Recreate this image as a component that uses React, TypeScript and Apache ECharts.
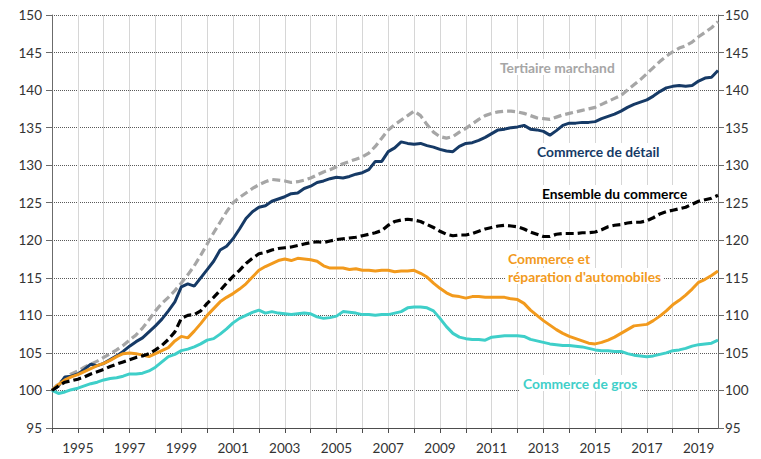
import React, { useEffect, useRef } from "react";
import * as echarts from "echarts";

// Quarters 1994T1 .. 2019T4
const years: number[] = [];
for (let y = 1994; y <= 2019; y++) years.push(y);
const categories: string[] = [];
years.forEach((y) => [1, 2, 3, 4].forEach((q) => categories.push(`${y}T${q}`)));

const tertiaireMarchand = [
  100, 100.9, 101.6, 102.2,
  102.6, 103.1, 103.5, 103.9,
  104.4, 104.9, 105.4, 106.0,
  106.7, 107.4, 108.3, 109.4,
  110.6, 111.6, 112.4, 113.3,
  114.3, 115.4, 116.6, 118.0,
  119.5, 121.0, 122.4, 123.8,
  125.0, 125.7, 126.3, 126.9,
  127.4, 127.8, 128.1, 128.0,
  127.9, 127.7, 127.8, 128.0,
  128.3, 128.7, 129.1, 129.4,
  129.8, 130.2, 130.5, 130.8,
  131.1, 131.6, 132.5, 133.6,
  134.7, 135.4, 136.0, 136.6,
  137.2, 136.6, 135.4, 134.4,
  133.8, 133.6, 133.8, 134.4,
  134.9, 135.5, 136.1, 136.6,
  136.9, 137.1, 137.2, 137.2,
  137.1, 136.9, 136.6, 136.3,
  136.2, 136.1, 136.4, 136.7,
  136.9, 137.1, 137.3, 137.5,
  137.7, 138.1, 138.5, 138.9,
  139.3, 140.0, 140.7, 141.4,
  142.2, 143.0, 143.8, 144.5,
  145.1, 145.6, 145.9, 146.4,
  147.1, 147.7, 148.3, 149.1,
];

const commerceDetail = [
  100, 100.6, 101.8, 101.9,
  102.2, 102.8, 103.5, 103.3,
  103.6, 104.1, 104.6, 105.2,
  105.9, 106.5, 107.0, 107.8,
  108.6, 109.5, 110.6, 111.8,
  113.8, 114.2, 113.9, 115.0,
  116.1, 117.2, 118.7, 119.2,
  120.2, 121.5, 122.9, 123.8,
  124.4, 124.6, 125.2, 125.5,
  125.8, 126.2, 126.3, 126.9,
  127.2, 127.7, 127.9, 128.2,
  128.4, 128.3, 128.5, 128.8,
  129.0, 129.4, 130.5, 130.5,
  131.8, 132.3, 133.1, 132.9,
  132.8, 132.9, 132.6, 132.4,
  132.1, 131.9, 131.8, 132.5,
  132.9, 133.0, 133.3, 133.7,
  134.2, 134.7, 134.8, 135.0,
  135.1, 135.3, 134.8, 134.7,
  134.5, 134.0, 134.6, 135.3,
  135.6, 135.6, 135.7, 135.7,
  135.8, 136.2, 136.5, 136.8,
  137.2, 137.7, 138.1, 138.4,
  138.7, 139.2, 139.8, 140.3,
  140.5, 140.6, 140.5, 140.6,
  141.2, 141.6, 141.7, 142.6,
];

const ensembleCommerce = [
  100, 100.6, 101.1, 101.3,
  101.5, 101.8, 102.2, 102.5,
  102.8, 103.2, 103.5, 103.8,
  104.1, 104.4, 104.6, 104.9,
  105.4, 106.0, 106.8, 107.8,
  109.6, 110.0, 110.1, 110.6,
  111.6, 112.4, 113.3, 114.3,
  115.2, 116.0, 116.9, 117.6,
  118.2, 118.4, 118.7, 118.9,
  119.0, 119.1, 119.3, 119.5,
  119.7, 119.8, 119.7, 119.9,
  120.1, 120.2, 120.3, 120.4,
  120.6, 120.8, 121.0, 121.3,
  122.0, 122.5, 122.7, 122.8,
  122.7, 122.5, 122.1, 121.7,
  121.2, 120.8, 120.6, 120.7,
  120.7, 120.9, 121.2, 121.5,
  121.7, 121.9, 122.0, 121.9,
  121.8, 121.5, 121.1, 120.8,
  120.5, 120.5, 120.8, 120.9,
  120.9, 120.9, 121.0, 121.0,
  121.1, 121.4, 121.8, 122.0,
  122.1, 122.3, 122.4, 122.4,
  122.6, 123.0, 123.5, 123.8,
  124.0, 124.2, 124.4, 124.8,
  125.2, 125.4, 125.6, 126.0,
];

const commerceAutomobiles = [
  100, 100.8, 101.4, 101.8,
  102.1, 102.5, 102.9, 103.3,
  103.6, 104.0, 104.5, 104.9,
  105.0, 104.9, 104.7, 104.5,
  104.9, 105.3, 105.7, 106.6,
  107.2, 107.0, 107.9, 108.9,
  110.0, 110.9, 111.8, 112.4,
  112.9, 113.5, 114.2, 115.1,
  116.0, 116.5, 116.9, 117.3,
  117.5, 117.3, 117.6, 117.5,
  117.4, 117.2, 116.6, 116.3,
  116.3, 116.3, 116.1, 116.2,
  116.0, 116.0, 115.9, 116.0,
  116.0, 115.8, 115.9, 115.9,
  116.0, 115.6, 115.1, 114.3,
  113.6, 113.0, 112.6, 112.5,
  112.3, 112.5, 112.5, 112.4,
  112.4, 112.4, 112.4, 112.2,
  112.1, 111.6, 110.7, 110.0,
  109.3, 108.7, 108.1, 107.6,
  107.2, 106.9, 106.6, 106.3,
  106.2, 106.4, 106.7, 107.1,
  107.6, 108.1, 108.6, 108.7,
  108.8, 109.3, 109.9, 110.6,
  111.4, 112.0, 112.7, 113.5,
  114.4, 114.8, 115.3, 115.9,
];

const commerceGros = [
  100, 99.6, 99.8, 100.1,
  100.3, 100.6, 100.9, 101.1,
  101.4, 101.6, 101.7, 101.9,
  102.2, 102.2, 102.3, 102.6,
  103.1, 103.8, 104.5, 104.8,
  105.3, 105.5, 105.8, 106.2,
  106.7, 106.9, 107.5, 108.2,
  109.0, 109.6, 110.0, 110.4,
  110.7, 110.3, 110.5, 110.3,
  110.2, 110.1, 110.2, 110.3,
  110.2, 109.8, 109.6, 109.7,
  109.9, 110.5, 110.4, 110.3,
  110.1, 110.1, 110.0, 110.1,
  110.1, 110.3, 110.5, 111.0,
  111.1, 111.1, 111.0, 110.6,
  109.6, 108.5, 107.6, 107.1,
  106.9, 106.8, 106.8, 106.7,
  107.1, 107.2, 107.3, 107.3,
  107.3, 107.2, 106.8, 106.6,
  106.4, 106.2, 106.1, 106.0,
  106.0, 105.9, 105.8, 105.6,
  105.4, 105.3, 105.3, 105.2,
  105.2, 104.9, 104.7, 104.6,
  104.5, 104.6, 104.8, 105.0,
  105.3, 105.4, 105.6, 105.9,
  106.1, 106.2, 106.3, 106.7,
];

const yMin = 95;
const yMax = 150;
const yStep = 5;

const FONT = "Lato, 'Open Sans', sans-serif";

export default function App() {
  const ref = useRef<HTMLDivElement>(null);

  useEffect(() => {
    if (!ref.current) return;
    const chart = echarts.init(ref.current, null, { renderer: "svg" });

    const yAxisCommon = {
      type: "value" as const,
      min: yMin,
      max: yMax,
      interval: yStep,
      axisLine: { show: true, lineStyle: { color: "#6b6b6b", width: 1 } },
      axisTick: { show: true, length: 6, lineStyle: { color: "#6b6b6b" } },
      axisLabel: { color: "#333", fontSize: 13.5, fontFamily: FONT },
    };

    const label = (text: string, x: number, y: number, color: string) => ({
      type: "text",
      x,
      y,
      z: 100,
      style: {
        text,
        fill: color,
        font: `bold 13.8px ${FONT}`,
        textVerticalAlign: "middle",
        backgroundColor: "#fff",
        padding: [1, 3],
      },
    });

    chart.setOption({
      animation: false,
      backgroundColor: "#fff",
      grid: { left: 52, right: 43, top: 15, bottom: 31, containLabel: false },
      xAxis: {
        type: "category",
        data: categories,
        boundaryGap: false,
        axisLine: { show: true, lineStyle: { color: "#4d4d4d", width: 1 } },
        axisTick: { show: true, interval: 3, length: 5, lineStyle: { color: "#4d4d4d" } },
        axisLabel: {
          interval: (index: number) => index % 8 === 4,
          formatter: (v: string) => v.slice(0, 4),
          color: "#333",
          fontSize: 13.5,
          fontFamily: FONT,
          margin: 13,
        },
        splitLine: { show: true, interval: 3, lineStyle: { color: "#d6d6d6", width: 1 } },
      },
      yAxis: [
        {
          ...yAxisCommon,
          position: "left",
          axisLabel: { ...yAxisCommon.axisLabel, margin: 10 },
          splitLine: { show: true, lineStyle: { color: "#5a5a5a", width: 1, type: [1, 1] } },
        },
        {
          ...yAxisCommon,
          position: "right",
          axisLabel: { ...yAxisCommon.axisLabel, margin: 7 },
          splitLine: { show: false },
        },
      ],
      series: [
        {
          name: "Tertiaire marchand",
          type: "line",
          data: tertiaireMarchand,
          symbol: "none",
          lineStyle: { color: "#a6a6a6", width: 3.2, type: [8, 4] },
          z: 2,
        },
        {
          name: "Commerce de détail",
          type: "line",
          data: commerceDetail,
          symbol: "none",
          lineStyle: { color: "#163a66", width: 3 },
          z: 3,
        },
        {
          name: "Ensemble du commerce",
          type: "line",
          data: ensembleCommerce,
          symbol: "none",
          lineStyle: { color: "#000", width: 3.2, type: [8, 4] },
          z: 4,
        },
        {
          name: "Commerce et réparation d'automobiles",
          type: "line",
          data: commerceAutomobiles,
          symbol: "none",
          lineStyle: { color: "#f29a1d", width: 3 },
          z: 3,
        },
        {
          name: "Commerce de gros",
          type: "line",
          data: commerceGros,
          symbol: "none",
          lineStyle: { color: "#3fcfc9", width: 3 },
          z: 3,
        },
      ],
      graphic: [
        label("Tertiaire marchand", 497, 67, "#a6a6a6"),
        label("Commerce de détail", 534, 151, "#163a66"),
        label("Ensemble du commerce", 539, 193, "#000"),
        label("Commerce et", 505, 258, "#f29a1d"),
        label("réparation d'automobiles", 505, 276, "#f29a1d"),
        label("Commerce de gros", 520, 383, "#3fcfc9"),
      ],
    });

    return () => chart.dispose();
  }, []);

  return (
    <div
      ref={ref}
      style={{ position: "fixed", left: 0, top: 0, width: 761, height: 459, background: "#fff" }}
    />
  );
}
